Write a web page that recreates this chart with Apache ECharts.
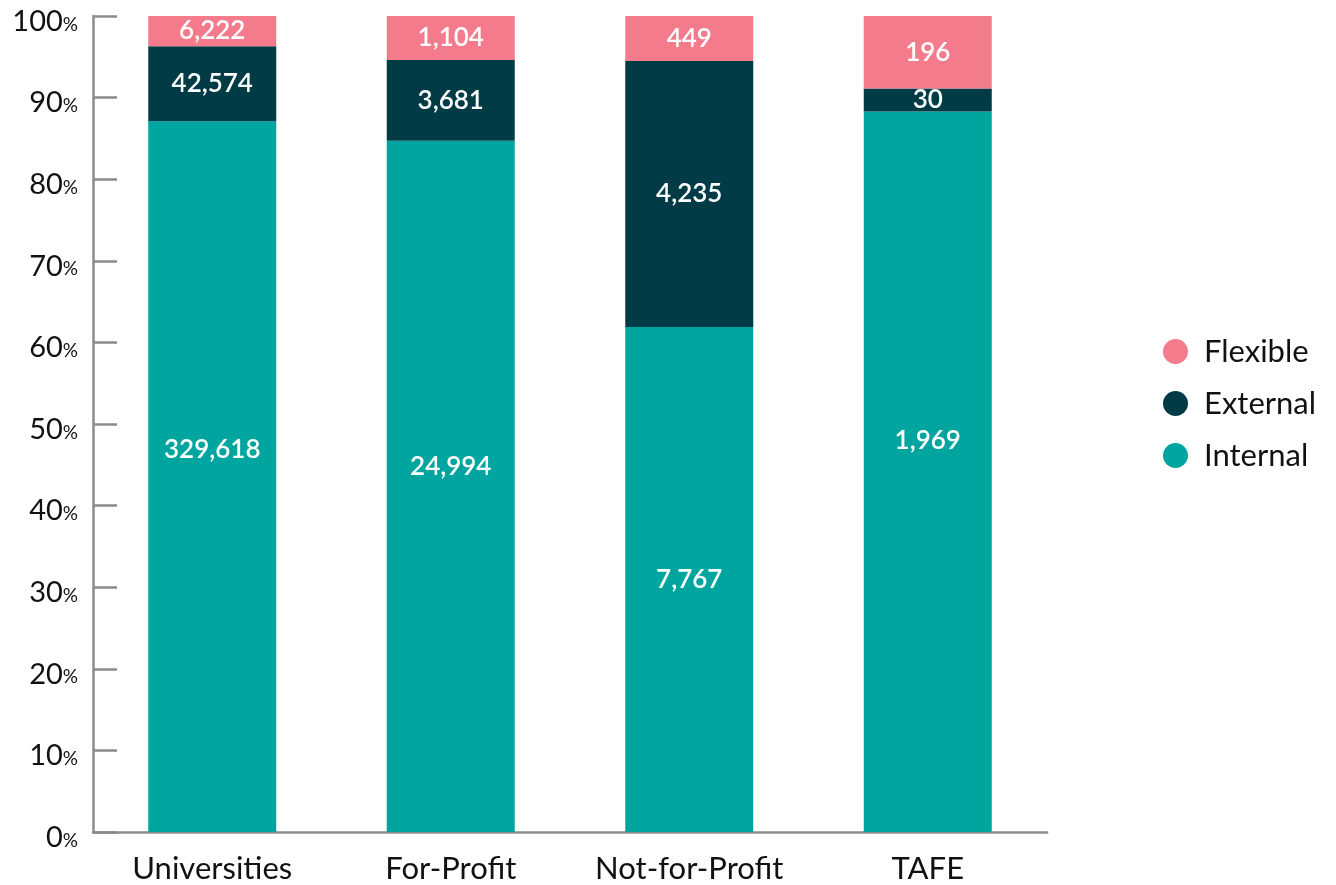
<!DOCTYPE html>
<html>
<head>
<meta charset="utf-8">
<script src="https://cdn.jsdelivr.net/npm/echarts@6/dist/echarts.min.js"></script>
<style>
  html, body { margin: 0; padding: 0; background: #ffffff; }
  #chart { width: 1336px; height: 885px; }
</style>
</head>
<body>
<div id="chart"></div>
<script>
// Enrolments by mode of attendance and provider type.
// Bar heights are each mode's share (%); the labels give the enrolment counts.
const categories = ['Universities', 'For-Profit', 'Not-for-Profit', 'TAFE'];

const internalShare = [87.1, 84.7, 61.9, 88.3];
const externalShare = [9.2, 9.9, 32.6, 2.8];
const flexibleShare = [3.7, 5.4, 5.5, 8.9];

const internalCount = [329618, 24994, 7767, 1969];
const externalCount = [42574, 3681, 4235, 30];
const flexibleCount = [6222, 1104, 449, 196];

const yTicks = [0, 10, 20, 30, 40, 50, 60, 70, 80, 90, 100];

// Label lift (px) for the tall Internal segments
const internalLabelLift = [27, 20, 0, 31];

const FONT = 'Lato, "Noto Sans", sans-serif';
const AXIS_GREY = '#8c8c90';

const labelStyle = {
  show: true,
  position: 'inside',
  color: '#ffffff',
  fontFamily: FONT,
  fontSize: 26,
  fontWeight: 600,
  formatter: p => p.data.count.toLocaleString('en-US')
};

const items = (shares, counts, lift) => shares.map((v, i) => {
  const d = { value: v, count: counts[i] };
  if (lift && lift[i]) d.label = { offset: [0, -lift[i]] };
  return d;
});

const chart = echarts.init(document.getElementById('chart'), null, { renderer: 'canvas' });

chart.setOption({
  animation: false,
  grid: { left: 93, right: 289, top: 16, bottom: 53, containLabel: false },
  legend: {
    orient: 'vertical',
    left: 1158,
    top: 331,
    itemWidth: 25,
    itemHeight: 25,
    itemGap: 21,
    icon: 'circle',
    data: ['Flexible', 'External', 'Internal'],
    textStyle: { fontFamily: FONT, fontSize: 31, color: '#111111', padding: [0, 0, 0, 11] }
  },
  xAxis: {
    type: 'category',
    data: categories,
    axisLine: { lineStyle: { color: AXIS_GREY, width: 2.5 } },
    axisTick: { inside: true, length: 20, lineStyle: { color: AXIS_GREY, width: 2.5 } },
    axisLabel: { color: '#111111', fontFamily: FONT, fontSize: 31, margin: 21, interval: 0, hideOverlap: false }
  },
  yAxis: {
    type: 'value',
    min: yTicks[0],
    max: yTicks[yTicks.length - 1],
    interval: yTicks[1] - yTicks[0],
    splitLine: { show: false },
    axisLine: { show: true, lineStyle: { color: AXIS_GREY, width: 2.5 } },
    axisTick: { show: true, inside: true, length: 24, lineStyle: { color: AXIS_GREY, width: 2.5 } },
    axisLabel: {
      margin: 15,
      padding: [7, 0, 0, 0],
      formatter: v => '{n|' + v + '}{p|%}',
      rich: {
        n: { fontFamily: FONT, fontSize: 29, color: '#111111', padding: [4, 0, 0, 0] },
        p: { fontFamily: FONT, fontSize: 19, color: '#111111', padding: [10, 0, 0, 0] }
      }
    }
  },
  series: [
    {
      name: 'Internal', type: 'bar', stack: 'mode', barWidth: 128,
      itemStyle: { color: '#00a59f' },
      label: labelStyle,
      data: items(internalShare, internalCount, internalLabelLift)
    },
    {
      name: 'External', type: 'bar', stack: 'mode', barWidth: 128,
      itemStyle: { color: '#013b46' },
      label: labelStyle,
      data: items(externalShare, externalCount)
    },
    {
      name: 'Flexible', type: 'bar', stack: 'mode', barWidth: 128,
      itemStyle: { color: '#f37b8c' },
      label: labelStyle,
      data: items(flexibleShare, flexibleCount)
    }
  ]
});
</script>
</body>
</html>
